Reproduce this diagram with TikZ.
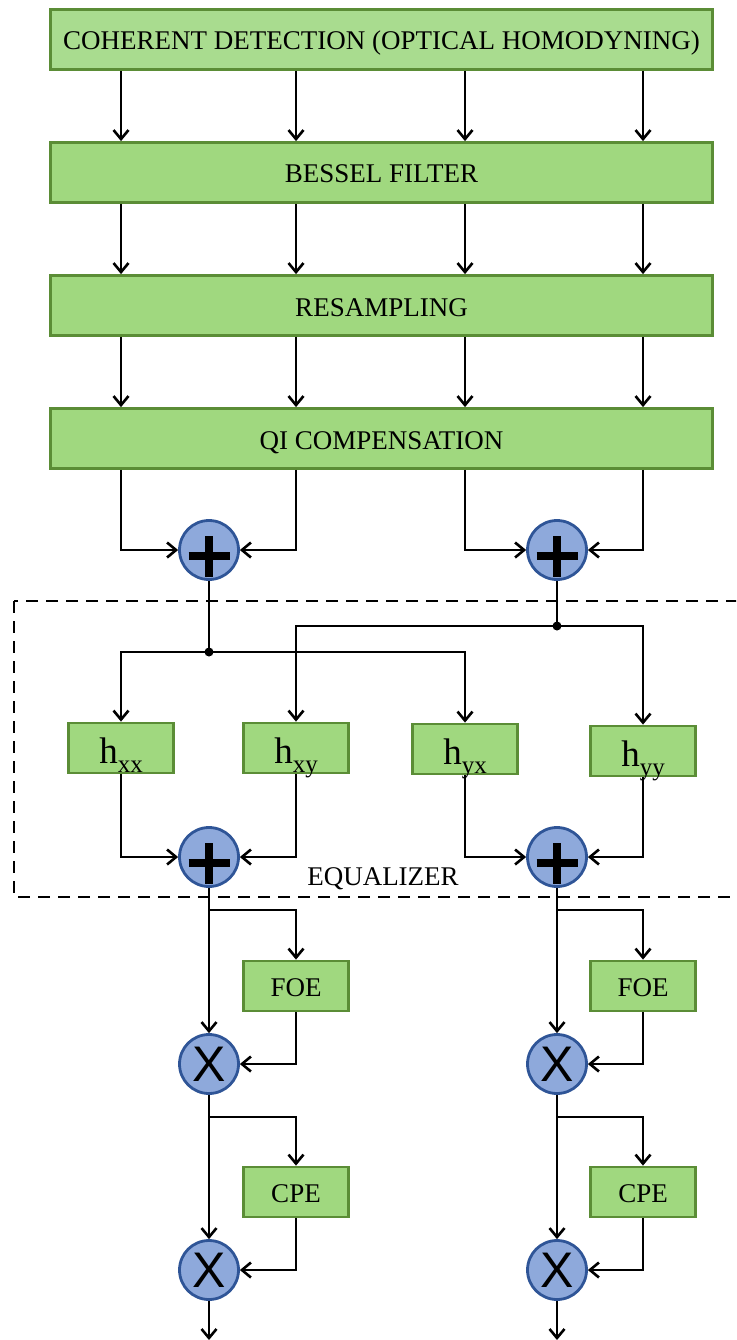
\documentclass[tikz,border=0pt]{standalone}
\usepackage{fontspec}
\setmainfont{Liberation Serif}
\newfontfamily\xsans{Liberation Sans}
\usetikzlibrary{arrows.meta}
\definecolor{topfill}{HTML}{A9DC8F}
\definecolor{blockfill}{HTML}{A0D87F}
\definecolor{blockdraw}{HTML}{5B8D36}
\definecolor{opfill}{HTML}{8EA9DB}
\definecolor{opdraw}{HTML}{2F5597}
\begin{document}
\begin{tikzpicture}[x=1pt,y=-1pt,
  >={Straight Barb[length=9pt,width=15pt]},
  block/.style={draw=blockdraw,fill=blockfill,line width=2.8pt,inner sep=0pt,
    text height=21pt,text depth=0pt,font=\fontsize{27}{30}\selectfont},
  wideblock/.style={block,minimum width=662pt,minimum height=60pt},
  hblock/.style={block,minimum width=105pt,minimum height=50pt,text height=30pt},
  smallblock/.style={block,minimum width=105pt,minimum height=50pt},
  opnode/.style={circle,draw=opdraw,fill=opfill,line width=2.8pt,inner sep=0pt,minimum size=59pt},
  plusnode/.style={opnode,path picture={
      \draw[black,line width=8pt] ([yshift=-6pt]path picture bounding box.center) ++(-20.5pt,0pt) -- ++(41pt,0pt);
      \draw[black,line width=8pt] ([yshift=-6pt]path picture bounding box.center) ++(0pt,-20.5pt) -- ++(0pt,41pt);}},
  multnode/.style={opnode,text height=35.8pt,text depth=0pt,font=\xsans\fontsize{50}{50}\selectfont},
  conn/.style={line width=2.6pt,->},
  line/.style={line width=2.6pt},
  dashed box/.style={line width=2.8pt,dash pattern=on 12pt off 8pt},
  dot/.style={circle,fill=black,inner sep=0pt,minimum size=9pt}]
\clip (0,0) rectangle (736,1340);

% signal columns
\coordinate (c1) at (121,0);
\coordinate (c2) at (296,0);
\coordinate (c3) at (465,0);
\coordinate (c4) at (643,0);

% front-end chain
\node[wideblock,fill=topfill] (coh) at (381.5,39.5) {COHERENT DETECTION (OPTICAL HOMODYNING)};
\node[wideblock] (bes) at (381.5,172.5) {BESSEL FILTER};
\node[wideblock] (res) at (381.5,305.5) {RESAMPLING};
\node[wideblock] (qi)  at (381.5,438.5) {QI COMPENSATION};

\foreach \c in {c1,c2,c3,c4}{
  \draw[conn] (coh.south -| \c) -- (bes.north -| \c);
  \draw[conn] (bes.south -| \c) -- (res.north -| \c);
  \draw[conn] (res.south -| \c) -- (qi.north -| \c);
}

% I/Q combining
\node[plusnode] (p1) at (209,550) {};
\node[plusnode] (p2) at (557,550) {};
\draw[conn] (qi.south -| c1) |- (p1.west);
\draw[conn] (qi.south -| c2) |- (p1.east);
\draw[conn] (qi.south -| c3) |- (p2.west);
\draw[conn] (qi.south -| c4) |- (p2.east);

% equalizer
\draw[dashed box] (14,601) rectangle (760,897);
\node[hblock] (hxx) at (121,748) {{\fontsize{37}{40}\selectfont h}\raisebox{-9pt}{\fontsize{25}{28}\selectfont xx}};
\node[hblock] (hxy) at (296,748) {{\fontsize{37}{40}\selectfont h}\raisebox{-9pt}{\fontsize{25}{28}\selectfont xy}};
\node[hblock] (hyx) at (465,749) {{\fontsize{37}{40}\selectfont h}\raisebox{-9pt}{\fontsize{25}{28}\selectfont yx}};
\node[hblock] (hyy) at (643,751) {{\fontsize{37}{40}\selectfont h}\raisebox{-9pt}{\fontsize{25}{28}\selectfont yy}};

\node[dot] (j1) at (209,652) {};
\node[dot] (j2) at (557,626) {};
\draw[line] (p1.south) -- (j1.center);
\draw[line] (p2.south) -- (j2.center);
\draw[conn] (j1.center) -| (hxx.north);
\draw[conn] (j1.center) -| (hyx.north);
\draw[conn] (j2.center) -| (hxy.north);
\draw[conn] (j2.center) -| (hyy.north);

\node[plusnode] (p3) at (209,857) {};
\node[plusnode] (p4) at (557,857) {};
\draw[conn] (hxx.south) |- (p3.west);
\draw[conn] (hxy.south) |- (p3.east);
\draw[conn] (hyx.south) |- (p4.west);
\draw[conn] (hyy.south) |- (p4.east);
\node[font=\fontsize{27}{30}\selectfont,inner sep=0pt,text height=21pt,text depth=0pt] (eq) at (383,875) {EQUALIZER};

% carrier recovery, X and Y branches
\node[smallblock] (f1) at (296,986) {FOE};
\node[smallblock] (f2) at (643,986) {FOE};
\node[multnode] (m1) at (209,1064) {X};
\node[multnode] (m2) at (557,1064) {X};
\node[smallblock] (cp1) at (296,1192) {CPE};
\node[smallblock] (cp2) at (643,1192) {CPE};
\node[multnode] (m3) at (209,1270) {X};
\node[multnode] (m4) at (557,1270) {X};

\coordinate (b1) at (209,910);
\coordinate (b2) at (557,910);
\coordinate (b3) at (209,1117);
\coordinate (b4) at (557,1117);
\coordinate (o1) at (209,1340);
\coordinate (o2) at (557,1340);

\draw[conn] (p3.south) -- (m1.north);
\draw[conn] (p4.south) -- (m2.north);
\draw[conn] (b1) -| (f1.north);
\draw[conn] (b2) -| (f2.north);
\draw[conn] (f1.south) |- (m1.east);
\draw[conn] (f2.south) |- (m2.east);

\draw[conn] (m1.south) -- (m3.north);
\draw[conn] (m2.south) -- (m4.north);
\draw[conn] (b3) -| (cp1.north);
\draw[conn] (b4) -| (cp2.north);
\draw[conn] (cp1.south) |- (m3.east);
\draw[conn] (cp2.south) |- (m4.east);

\draw[conn] (m3.south) -- (o1);
\draw[conn] (m4.south) -- (o2);
\end{tikzpicture}
\end{document}
